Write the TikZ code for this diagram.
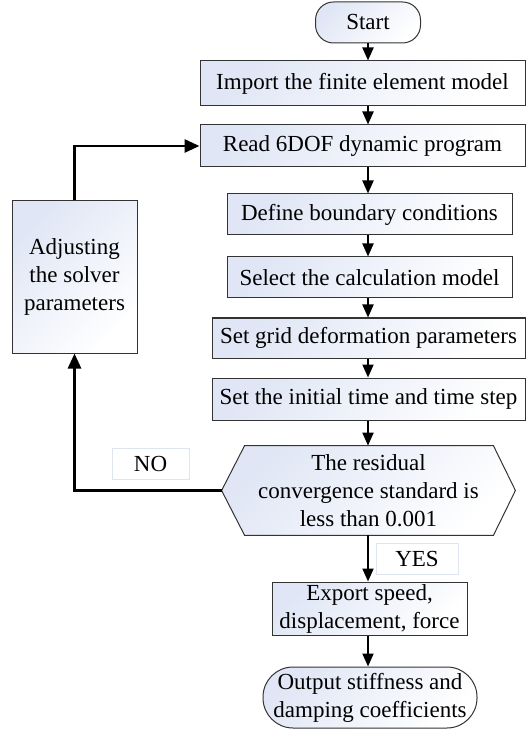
\documentclass[tikz,border=0pt]{standalone}
\usepackage{fontspec}
\setmainfont{Liberation Serif}
\usetikzlibrary{positioning, calc, backgrounds, arrows.meta}
\definecolor{boxfill}{RGB}{224,230,245}
\definecolor{tagline}{RGB}{222,228,240}
\tikzset{shaded/.style = {draw=black!80, line width=0.5pt, top color=boxfill, bottom color=white, shading angle=45},
         box/.style = {shaded, rectangle, inner sep=1pt, align=center},
         term/.style = {box, rounded corners=15pt},
         tag/.style = {draw=tagline, fill=white, line width=0.5pt, inner sep=1pt},
         flow/.style = {-{Triangle[length=6.5pt,width=5.5pt]}, line width=1pt},
         loopline/.style = {-{Triangle[length=7.5pt,width=6.5pt]}, line width=1.4pt}}

\begin{document}
\begin{tikzpicture}[x=0.5pt, y=-0.5pt, font=\fontsize{11.5}{14}\selectfont]
    \useasboundingbox (0,0) rectangle (528,731);

    \node [term, rounded corners=9pt, minimum width=52.5pt, minimum height=20.5pt] (start) at (368, 22.5) {Start};
    \node [box, minimum width=162.5pt, minimum height=22.5pt] (import)  at (362.5,  83.5) {Import the finite element model};
    \node [box, minimum width=162.5pt, minimum height=21pt]   (read)    at (362.5, 146)   {Read 6DOF dynamic program};
    \node [box, minimum width=142.5pt, minimum height=20.5pt] (define)  at (369.5, 214.5) {Define boundary conditions};
    \node [box, minimum width=142.5pt, minimum height=20.5pt] (select)  at (369.5, 277.5) {Select the calculation model};
    \node [box, minimum width=156.5pt, minimum height=20pt]   (grid)    at (368.5, 338)   {Set grid deformation parameters};
    \node [box, minimum width=156.5pt, minimum height=21pt]   (initial) at (368.5, 399)   {Set the initial time and time step};
    \node [inner sep=1pt, align=center, minimum width=146.5pt, minimum height=44.5pt] (chk) at (368.5, 490.5)
          {The residual\\convergence standard is\\less than 0.001};
    \node [box, minimum width=97.5pt, minimum height=26.5pt]  (export)  at (369.5, 608.5) {Export speed,\\displacement, force};
    \node [term, minimum width=107pt, minimum height=30.5pt]  (output)  at (370, 697.5)   {Output stiffness and\\damping coefficients};

    \node [box, minimum width=62.5pt, minimum height=76pt]    (adjust)  at (74.5, 277)    {Adjusting\\the solver\\parameters};

    \node [tag, minimum width=38.5pt, minimum height=15.5pt]  (no)      at (150.5, 463.5) {NO};
    \node [tag, minimum width=41pt, minimum height=15.5pt]    (yes)     at (417, 558.5)   {YES};

    % decision outline
    \begin{scope}[on background layer]
        \draw [shaded] (chk.west) -- ($(chk.north west)+(23,0)$) -- ($(chk.north east)+(-22,0)$)
              -- (chk.east) -- ($(chk.south east)+(-22,0)$) -- ($(chk.south west)+(23,0)$) -- cycle;
    \end{scope}

    \draw [flow] (start) -- (start |- import.north);
    \draw [flow] (start |- import.south) -- (start |- read.north);
    \draw [flow] (start |- read.south) -- (start |- define.north);
    \draw [flow] (start |- define.south) -- (start |- select.north);
    \draw [flow] (start |- select.south) -- (start |- grid.north);
    \draw [flow] (start |- grid.south) -- (start |- initial.north);
    \draw [flow] (start |- initial.south) -- (start |- chk.north);
    \draw [flow] (start |- chk.south) -- (start |- export.north);
    \draw [flow] (start |- export.south) -- (start |- output.north);

    % back loop
    \draw [loopline] (chk.west) -| (adjust.south);
    \draw [loopline] (adjust.north) |- (read.west);
\end{tikzpicture}
\end{document}
